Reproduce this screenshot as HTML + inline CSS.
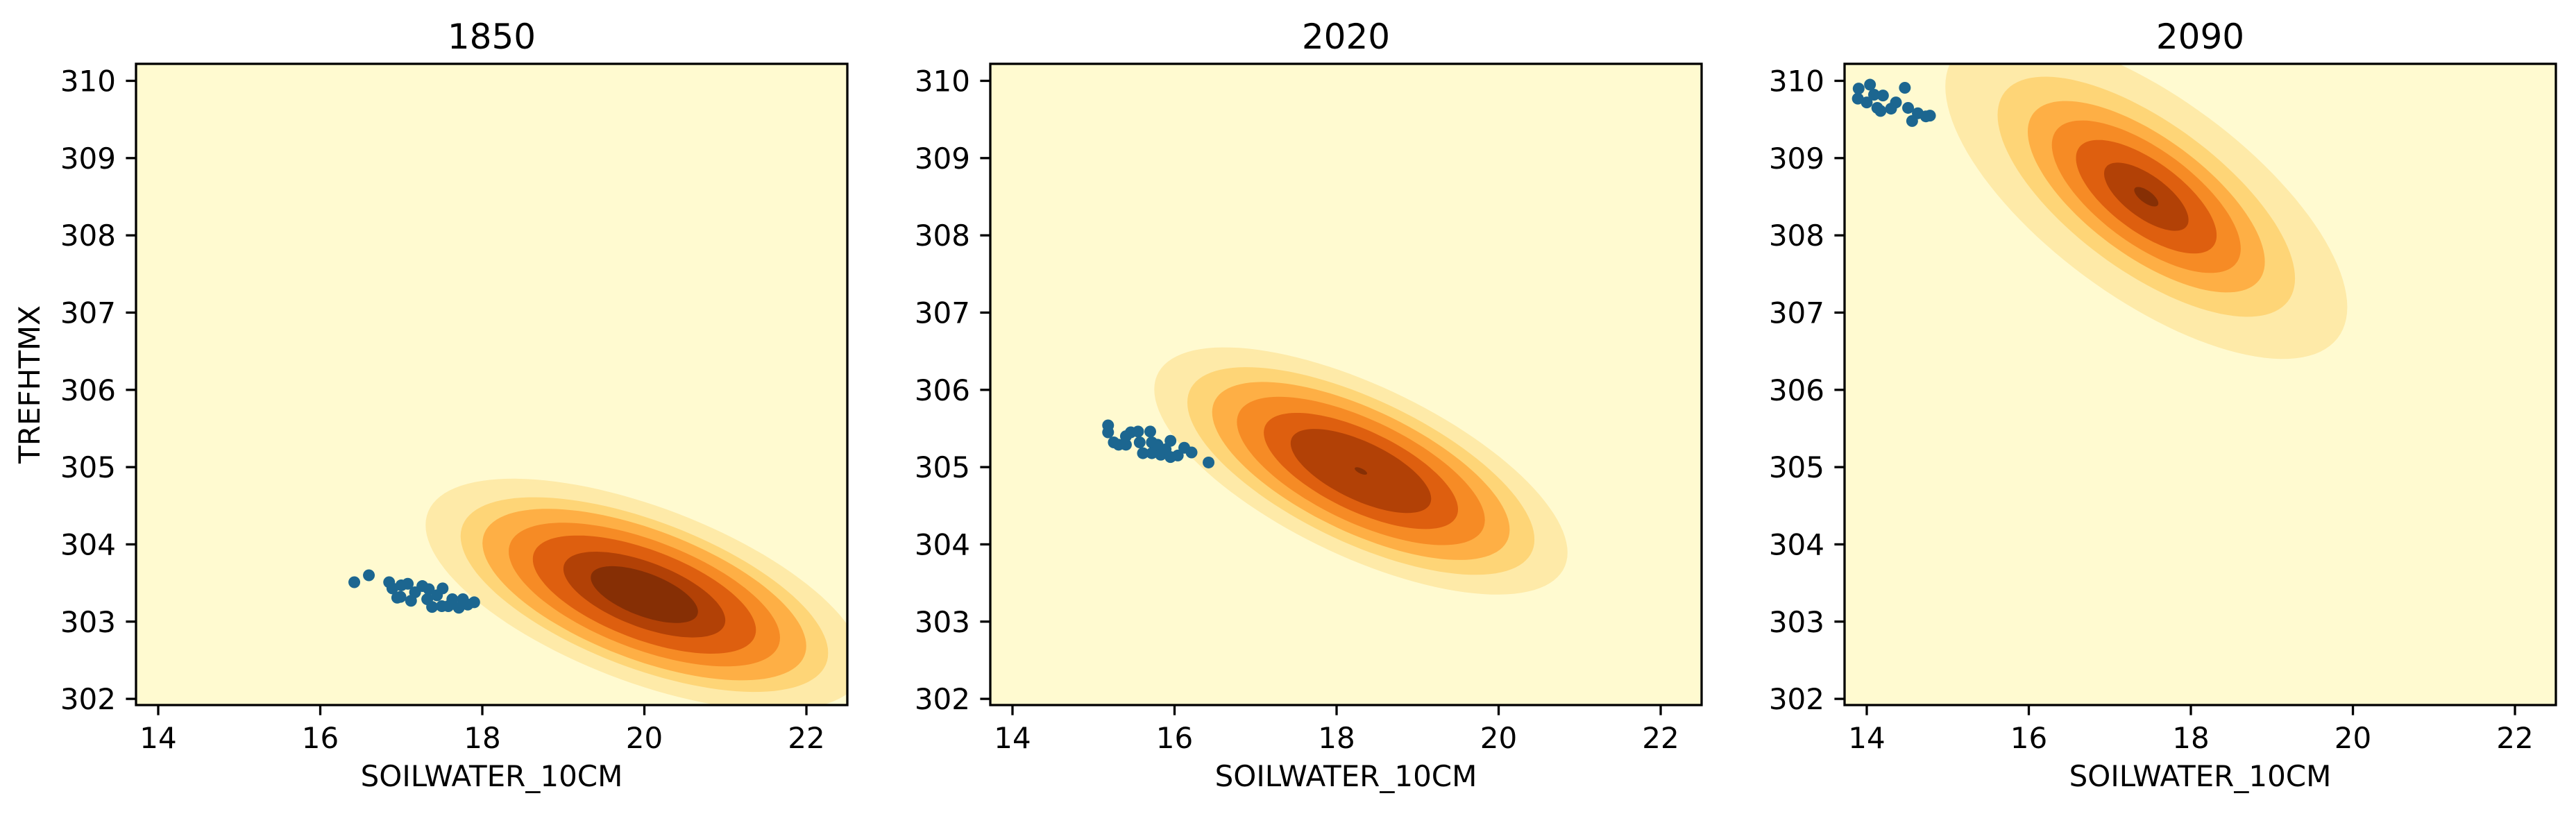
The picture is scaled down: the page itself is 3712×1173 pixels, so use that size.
<!DOCTYPE html>
<html><head><meta charset="utf-8"><style>
html,body{margin:0;padding:0;background:#fff;}
svg{display:block;font-family:"DejaVu Sans","Liberation Sans",sans-serif;}
</style></head><body>
<svg id="fig" width="3712" height="1173" viewBox="0 0 3712 1173"></svg>
<script>
const panelTitles = ["1850", "2020", "2090"];
const xTicks = [14, 16, 18, 20, 22];
const yTicks = [302, 303, 304, 305, 306, 307, 308, 309, 310];
const levelColors = ["#feeaa8", "#fed577", "#feaf45", "#f68b25", "#de5f0f", "#b24106", "#862f05"];
// KDE gaussian params per panel: mean x, mean y, extents, correlation
const kdeMx = [20.0, 18.3, 17.45];
const kdeMy = [303.35, 304.95, 308.5];
const kdeSx = [2.7, 2.55, 2.48];
const kdeSy = [1.5, 1.6, 2.1];
const kdeRho = [-0.6, -0.66, -0.68];
const levelRatios1850 = [1, 0.84, 0.74, 0.62, 0.51, 0.37, 0.245];
const levelRatios2020 = [1, 0.84, 0.72, 0.6, 0.47, 0.34, 0.03];
const levelRatios2090 = [1, 0.74, 0.59, 0.47, 0.35, 0.21, 0.06];
const pts1850x = [16.42,16.60,16.85,16.89,16.95,17.00,17.08,17.12,17.17,17.26,17.34,17.32,17.38,17.50,17.51,17.44,17.58,17.63,17.71,17.76,17.82,17.90,16.99];
const pts1850y = [303.51,303.60,303.51,303.43,303.31,303.47,303.49,303.27,303.38,303.46,303.42,303.29,303.19,303.20,303.43,303.34,303.20,303.29,303.18,303.29,303.22,303.25,303.32];
const pts2020x = [15.18,15.18,15.25,15.31,15.40,15.40,15.46,15.55,15.57,15.70,15.72,15.61,15.72,15.79,15.83,15.89,15.95,15.95,16.04,16.12,16.21,16.42];
const pts2020y = [305.54,305.45,305.32,305.29,305.29,305.40,305.45,305.46,305.32,305.46,305.32,305.18,305.18,305.29,305.16,305.23,305.34,305.13,305.15,305.25,305.19,305.06];
const pts2090x = [13.90,14.04,13.89,14.00,14.09,14.20,14.13,14.17,14.30,14.36,14.47,14.51,14.63,14.56,14.73,14.78];
const pts2090y = [309.90,309.95,309.77,309.72,309.82,309.81,309.65,309.61,309.64,309.72,309.91,309.65,309.58,309.48,309.54,309.55];

const levelRatios = [levelRatios1850, levelRatios2020, levelRatios2090];
const ptsX = [pts1850x, pts2020x, pts2090x];
const ptsY = [pts1850y, pts2020y, pts2090y];

const NS = "http://www.w3.org/2000/svg";
const svg = document.getElementById("fig");
const panelLeft = [196, 1427, 2658];
const PW = 1025, TOP = 92, BOT = 1016;
const XMIN = 13.726, XMAX = 22.505, YMIN = 301.92, YMAX = 310.22;
function mk(tag, attrs, parent) {
  const e = document.createElementNS(NS, tag);
  for (const k in attrs) e.setAttribute(k, attrs[k]);
  (parent || svg).appendChild(e);
  return e;
}
const defs = mk("defs", {});
for (let p = 0; p < 3; p++) {
  const L = panelLeft[p];
  const sx = v => L + (v - XMIN) / (XMAX - XMIN) * PW;
  const sy = v => BOT - (v - YMIN) / (YMAX - YMIN) * (BOT - TOP);
  const g = mk("g", {});
  
  
  const cp = mk("clipPath", {id: "clip" + p}, defs);
  mk("rect", {x: L, y: TOP, width: PW, height: BOT - TOP}, cp);
  const bg = mk("rect", {x: L, y: TOP, width: PW, height: BOT - TOP, fill: "#fffad0"}, g);
  
  
  const cg = mk("g", {"clip-path": "url(#clip" + p + ")"}, g);
  const rho = kdeRho[p], rr = Math.sqrt(1 - rho * rho);
  levelRatios[p].forEach((a, k) => {
    let d = "";
    for (let i = 0; i <= 120; i++) {
      const t = i / 120 * Math.PI * 2;
      const x = kdeMx[p] + a * kdeSx[p] * Math.cos(t);
      const y = kdeMy[p] + a * kdeSy[p] * (rho * Math.cos(t) + rr * Math.sin(t));
      d += (i ? "L" : "M") + sx(x).toFixed(1) + "," + sy(y).toFixed(1);
    }
    const path = mk("path", {d: d + "Z", fill: levelColors[k]}, cg);
    
    
  });
  ptsX[p].forEach((x, i) => {
    const c = mk("circle", {cx: sx(x), cy: sy(ptsY[p][i]), r: 8.5, fill: "#1c6690"}, cg);
    
    
  });
  const fr = mk("rect", {x: L, y: TOP, width: PW, height: BOT - TOP, fill: "none", stroke: "#000", "stroke-width": 3.3}, g);
  
  
  xTicks.forEach(v => {
    const X = sx(v);
    mk("line", {x1: X, x2: X, y1: BOT, y2: BOT + 14.6, stroke: "#000", "stroke-width": 3.3}, g);
    const t = mk("text", {x: X, y: 1078, "font-size": 42, "text-anchor": "middle"}, g);
    t.textContent = v;
    
    
  });
  yTicks.forEach(v => {
    const Y = sy(v);
    mk("line", {x1: L - 14.6, x2: L, y1: Y, y2: Y, stroke: "#000", "stroke-width": 3.3}, g);
    const t = mk("text", {x: L - 29, y: Y + 15, "font-size": 42, "text-anchor": "end"}, g);
    t.textContent = v;
    
    
  });
  const ti = mk("text", {x: L + PW / 2, y: 70, "font-size": 50, "text-anchor": "middle"}, g);
  ti.textContent = panelTitles[p];
  
  
  const xl = mk("text", {x: L + PW / 2, y: 1133, "font-size": 42, "text-anchor": "middle"}, g);
  xl.textContent = "SOILWATER_10CM";
  
  
}
const yl = mk("text", {x: 0, y: 0, "font-size": 42, "text-anchor": "middle", transform: "translate(57,554) rotate(-90)"});
yl.textContent = "TREFHTMX";


</script>
</body></html>
